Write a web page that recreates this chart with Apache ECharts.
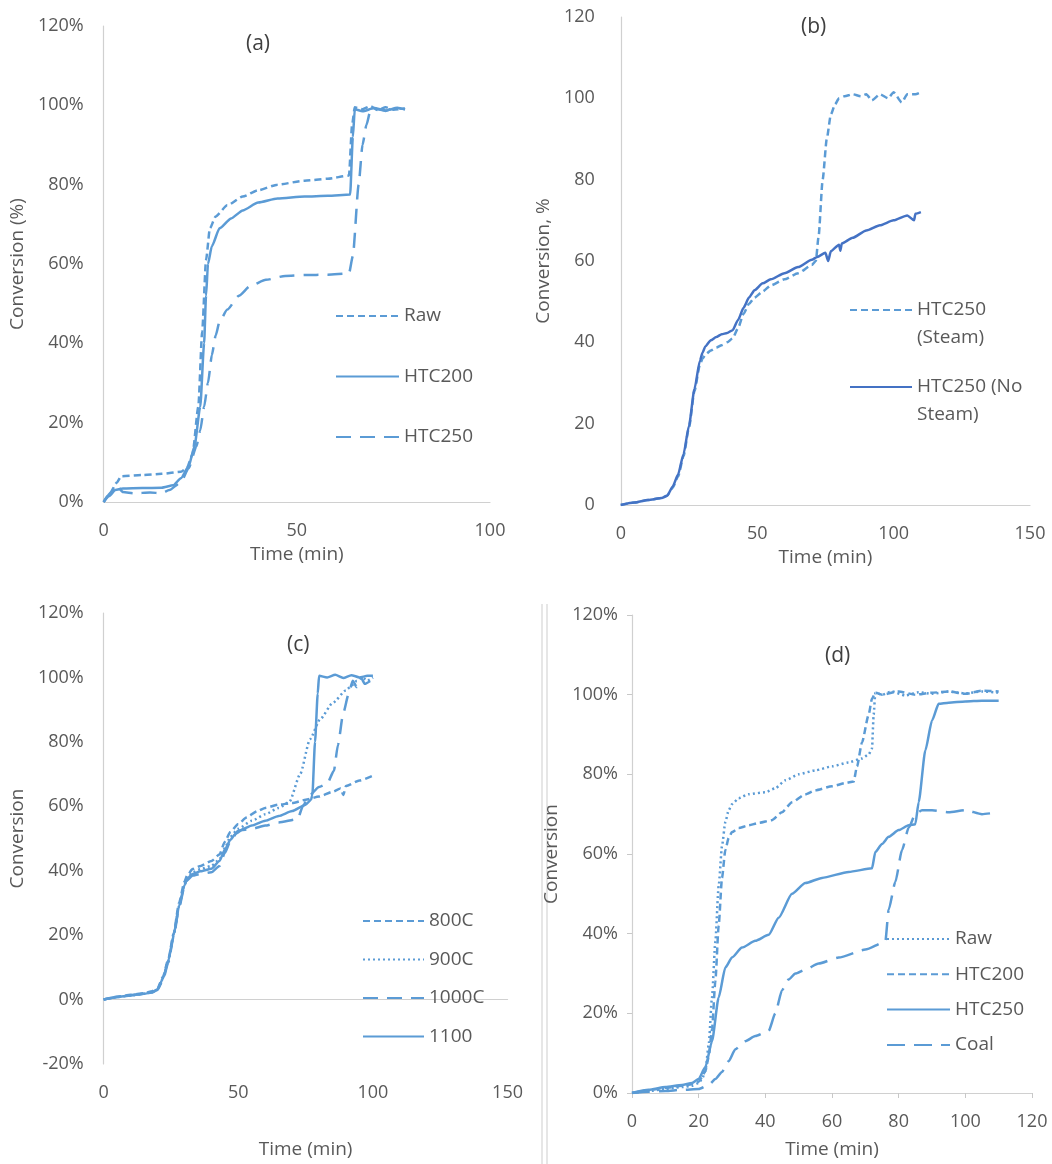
<!DOCTYPE html>
<html>
<head>
<meta charset="utf-8">
<script src="https://cdn.jsdelivr.net/npm/echarts@6/dist/echarts.min.js"></script>
<style>
  body { margin: 0; background: #fff; }
  .p { position: absolute; width: 526px; height: 582px; }
</style>
</head>
<body>
<div id="pa" class="p" style="left:0;top:0"></div>
<div id="pb" class="p" style="left:526px;top:0"></div>
<div id="pc" class="p" style="left:0;top:582px"></div>
<div id="pd" class="p" style="left:526px;top:582px"></div>
<script>
// ---- (a) conversion %, time in min
const aRawT = [0, 1.5, 3.5, 4.5, 10, 15, 20, 21.5, 23, 24.5, 25.5, 26.5, 27.5, 29, 32, 36, 40, 45, 52, 58, 63.5, 64.3, 65, 67, 69, 71, 73, 75, 78]
const aRawY = [0, 2, 5, 6.5, 6.8, 7.1, 7.6, 8.5, 12, 24, 43, 61, 69, 72, 74.8, 77, 78.6, 80, 81, 81.5, 82.3, 95, 99.5, 99, 99.8, 98.8, 99.5, 98.9, 99.2]
const aH200T = [0, 1.5, 3, 5, 10, 15, 18, 20, 22, 23.5, 25, 26, 26.5, 27, 28, 30, 33, 36, 40, 45, 52, 58, 63.8, 64.5, 65, 67, 70, 73, 76, 78]
const aH200Y = [0, 1.5, 3, 3.4, 3.5, 3.6, 4.2, 6, 9, 14, 24, 40, 52, 60, 64.5, 69, 71.5, 73.5, 75.5, 76.5, 77, 77.2, 77.5, 92, 99, 98.5, 99.3, 98.7, 99.4, 99]
const aH250T = [0, 2, 3.5, 5, 8, 12, 15, 17, 20, 22, 24, 25, 26, 27, 28, 29, 30, 32, 35, 38, 42, 47, 52, 58, 63.5, 64.5, 66, 67, 68, 69, 71, 73, 75, 78]
const aH250Y = [0, 2.5, 4, 2.5, 2.2, 2.4, 2.2, 3, 5, 8.5, 14, 18, 24, 30, 37, 42, 45.5, 48.5, 52, 54.5, 56, 57, 57.2, 57.3, 57.6, 62, 80, 90, 95, 98.5, 99, 98.6, 99.3, 99]

// ---- (b)
const bNoT = [0, 5, 10, 15, 17, 19, 21, 23, 25, 27, 29, 30, 31, 33, 35, 37, 39, 41, 43, 45, 47, 49, 52, 55, 60, 65, 70, 72, 75, 76, 77, 80, 80.5, 81, 85, 90, 95, 100, 105, 107.5, 108, 110]
const bNoY = [0, 0.6, 1.2, 1.7, 2.3, 4.5, 7.5, 12.5, 19.5, 28.5, 35.5, 37.5, 39, 40.5, 41.3, 42, 42.3, 43, 45.5, 48.5, 51, 52.8, 54.5, 55.5, 57, 58.5, 60.3, 61, 62, 60, 62.4, 64, 62.5, 64.3, 65.7, 67.5, 68.8, 70, 71.2, 70, 71.6, 72]
const bStT = [0, 5, 10, 15, 17, 19, 21, 23, 25, 27, 29, 30, 31, 33, 35, 37, 39, 41, 43, 45, 47, 49, 52, 55, 60, 65, 70, 71.5, 72.5, 74, 75.5, 77, 78.5, 80, 82, 85, 88, 90, 92, 95, 98, 100, 103, 105, 108, 110]
const bStY = [0, 0.6, 1.2, 1.7, 2.3, 4.2, 7, 12, 19, 28, 34.5, 36, 37, 38, 38.7, 39.3, 40, 41, 43.5, 47, 49.5, 51, 52.5, 54, 55.5, 57, 59, 60, 66, 80, 90, 96, 98.5, 100, 100.5, 101, 100.5, 101, 99.5, 101, 100, 101.5, 99, 101, 101, 101.5]

// ---- (c)
const c800T = [0, 5, 10, 15, 18, 20, 22, 24, 26, 28, 30, 31, 33, 36, 40, 43, 45, 47, 50, 53, 57, 60, 65, 70, 75, 80, 85, 88, 89, 90, 95, 100]
const c800Y = [0, 0.9, 1.5, 2, 2.6, 3.5, 7, 12.5, 20.5, 30, 36.5, 38.5, 40.5, 41.5, 43, 45, 49, 52, 54.5, 56.5, 58.5, 59.5, 60.5, 61, 62, 63, 64.5, 65.5, 63.5, 66.3, 68, 69.5]
const c900T = [0, 5, 10, 15, 18, 20, 22, 24, 26, 28, 30, 31, 33, 36, 40, 43, 45, 47, 50, 55, 60, 65, 69, 73, 76.6, 80.4, 85, 90, 92.3, 94, 96, 98, 100]
const c900Y = [0, 0.8, 1.3, 1.8, 2.3, 3.3, 6.5, 12, 20, 29, 35.5, 37.5, 39.5, 40.5, 41.5, 43.5, 47, 50.5, 53, 55.5, 57.5, 59.5, 61.4, 70, 80.8, 87, 92, 96, 97.6, 99, 100, 99, 100]
const c1000T = [0, 5, 10, 15, 18, 20, 22, 24, 26, 28, 30, 31, 33, 36, 40, 43, 45, 47, 50, 55, 60, 65, 72, 74, 76, 80, 83, 85.5, 87, 89, 91, 92.5, 94, 95.5, 97, 100]
const c1000Y = [0, 0.8, 1.3, 1.8, 2.2, 3, 6, 11.5, 19.5, 28.5, 35, 37, 38.5, 39, 39.5, 41.5, 45.5, 49, 52.5, 53, 54, 55, 56, 60, 63, 66, 67, 71, 79, 89, 95, 99, 97, 100, 98, 99.5]
const c1100T = [0, 5, 10, 15, 18, 20, 22, 24, 26, 28, 30, 31, 33, 36, 40, 43, 45, 47, 49, 52, 55, 60, 65, 70, 75, 77, 77.5, 78.5, 79.5, 80, 83, 86, 89, 92, 95, 98, 100]
const c1100Y = [0, 0.8, 1.3, 1.8, 2.2, 3.2, 6.5, 12, 20, 29, 35.5, 37.5, 39, 39.8, 40.6, 43, 46.5, 49.5, 51.5, 53, 54, 55.5, 57, 58.5, 60.5, 62, 63.5, 80, 95, 100.5, 100, 100.8, 99.8, 100.7, 100, 100.5, 100.5]

// ---- (d)
const dRawT = [0, 5, 10, 15, 18, 20, 21, 22, 23, 24, 25, 26, 27, 28, 29, 30, 32, 35, 40, 43, 46, 50, 55, 60, 65, 69, 71, 72, 72.5, 73, 75, 78, 82, 86, 90, 95, 100, 105, 110]
const dRawY = [0, 0.5, 1, 1.5, 1.8, 2.5, 3.5, 5.5, 12, 24, 38, 52, 62, 68, 71, 72.5, 74, 75, 75.5, 76.5, 78.5, 80, 81, 82, 83, 84, 85, 86.5, 95, 100.5, 100, 100.8, 99.8, 100.6, 100.2, 100.8, 100.3, 100.8, 100.5]
const dH200T = [0, 5, 10, 15, 18, 20, 21, 22, 23, 24, 25, 26, 27, 28, 29, 30, 32, 35, 38, 42, 45, 48, 52, 55, 60, 64, 66.5, 67.5, 69, 71, 72, 73, 75, 80, 85, 90, 95, 100, 105, 110]
const dH200Y = [0, 0.7, 1.3, 1.8, 2.2, 2.8, 4, 5.5, 9, 16, 28, 42, 54, 61, 64, 65.5, 66.5, 67.2, 67.8, 68.5, 70.5, 73, 75, 76, 77, 77.8, 78.2, 82, 88, 95, 99, 100.5, 100, 100.8, 100, 100.5, 100.8, 100.2, 101, 100.8]
const dH250T = [0, 5, 10, 15, 18, 20, 22, 24, 26, 28, 30, 33, 37, 41, 44, 48, 52, 57, 65, 72, 73, 75, 77, 80, 83, 85, 86, 88, 90, 92, 95, 100, 105, 110]
const dH250Y = [0, 0.8, 1.5, 2, 2.5, 3.5, 6.5, 13, 24, 31.5, 34, 36.5, 38.2, 39.7, 44, 50, 52.7, 54, 55.5, 56.4, 60.5, 62.5, 64.3, 66, 67.2, 67.5, 73, 86, 93.5, 97.7, 98, 98.3, 98.5, 98.5]
const dCoalT = [0, 5, 10, 15, 20, 23, 25, 27, 29, 31, 34, 37, 41, 43, 45, 47, 49, 52, 56, 62, 70, 76, 77, 79, 81, 83, 85, 87, 90, 95, 100, 105, 110]
const dCoalY = [0, 0.3, 0.5, 0.8, 1, 2, 3.5, 5.3, 8, 11, 13, 14.3, 15.6, 20, 25.8, 28.5, 30, 31, 32.5, 34, 36, 38, 46, 53, 61, 66.6, 70, 71, 71, 70.5, 71, 70, 70.5]

const BLUE = '#5B9BD5'
const DARK = '#4472C4'
const TXT = '#595959'
const FONT = 'Open Sans'

function line(name, t, y, dash, color) {
  return {
    name: name,
    type: 'line',
    data: t.map((x, i) => [x, y[i]]),
    symbol: 'none',
    smooth: 0.2,
    smoothMonotone: 'x',
    lineStyle: { color: color || BLUE, width: 2.5, type: dash },
    itemStyle: { color: color || BLUE }
  }
}

function axisX(max, interval, nameGap, ticks) {
  return {
    type: 'value', min: 0, max: max, interval: interval,
    name: 'Time (min)', nameLocation: 'middle', nameGap: nameGap,
    nameTextStyle: { color: TXT, fontSize: 19, fontFamily: FONT },
    axisLine: { lineStyle: { color: '#d0d0d0', width: 1.2 } },
    axisTick: { show: ticks, length: 5, lineStyle: { color: '#c8c8c8' } },
    axisLabel: { color: TXT, fontSize: 18, fontFamily: FONT, margin: 20 },
    splitLine: { show: false }
  }
}

function axisY(name, min, nameGap, pct, ticks, margin) {
  return {
    type: 'value', min: min, max: 120, interval: 20,
    name: name, nameLocation: 'middle', nameGap: nameGap,
    nameTextStyle: { color: TXT, fontSize: 19, fontFamily: FONT },
    axisLine: { show: true, lineStyle: { color: '#d0d0d0', width: 1.2 } },
    axisTick: { show: ticks, length: 5, lineStyle: { color: '#c8c8c8' } },
    axisLabel: { color: TXT, fontSize: 18, fontFamily: FONT, margin: margin, formatter: pct ? '{value}%' : '{value}' },
    splitLine: { show: false }
  }
}

// legend shows only the dashed line, the marker circle is hidden
function legend(left, top, gap, width, extra) {
  return Object.assign({
    orient: 'vertical', left: left, top: top, padding: 0,
    itemWidth: width, itemHeight: 24, itemGap: gap, selectedMode: false,
    itemStyle: { opacity: 0, color: 'rgba(0,0,0,0)', borderWidth: 0 },
    textStyle: { color: TXT, fontSize: 19, fontFamily: FONT, lineHeight: 24 }
  }, extra || {})
}

function title(text, left, top) {
  return { text: text, left: left, top: top, padding: 0,
    textStyle: { color: '#404040', fontSize: 21, fontWeight: 'normal', fontFamily: FONT } }
}

const base = { animation: false, backgroundColor: '#fff' }

echarts.init(document.getElementById('pa')).setOption(Object.assign({}, base, {
  title: title('(a)', 246, 34),
  grid: { left: 92, top: 26, width: 398, height: 476 },
  xAxis: axisX(100, 50, 37, false),
  yAxis: axisY('Conversion (%)', 0, 59, true, false, 20),
  legend: legend(335, 304, 36.5, 63),
  series: [
    line('Raw', aRawT, aRawY, [7, 4]),
    line('HTC200', aH200T, aH200Y, 'solid'),
    line('HTC250', aH250T, aH250Y, [15, 9])
  ]
}))

const bLabels = { 'HTC250 (Steam)': '\nHTC250\n(Steam)', 'HTC250 (No Steam)': '\nHTC250 (No\nSteam)' }
echarts.init(document.getElementById('pb')).setOption(Object.assign({}, base, {
  title: title('(b)', 275, 17),
  grid: { left: 78, top: 17, width: 426, height: 488 },
  xAxis: axisX(150, 50, 36, false),
  yAxis: axisY('Conversion, %', 0, 44, false, false, 26),
  legend: legend(323, 268, -7, 62, {
    formatter: n => bLabels[n],
    textStyle: { color: TXT, fontSize: 19, fontFamily: FONT, lineHeight: 28 }
  }),
  series: [
    line('HTC250 (Steam)', bStT, bStY, [7, 4]),
    line('HTC250 (No Steam)', bNoT, bNoY, 'solid', DARK)
  ]
}))

echarts.init(document.getElementById('pc')).setOption(Object.assign({}, base, {
  title: title('(c)', 287, 53),
  grid: { left: 83, top: 31, width: 430, height: 527 },
  xAxis: axisX(150, 50, 76, false),
  yAxis: axisY('Conversion', -20, 58, true, false, 20),
  legend: legend(362, 327, 14.5, 61),
  series: [
    line('800C', c800T, c800Y, [7, 4]),
    line('900C', c900T, c900Y, [2, 3]),
    line('1000C', c1000T, c1000Y, [15, 9]),
    line('1100', c1100T, c1100Y, 'solid')
  ]
}))

echarts.init(document.getElementById('pd')).setOption(Object.assign({}, base, {
  title: title('(d)', 299, 64),
  grid: { left: 106, top: 33, width: 400, height: 478 },
  xAxis: axisX(120, 20, 47, true),
  yAxis: axisY('Conversion', 0, 56, true, true, 14),
  legend: legend(360, 345, 11.3, 63),
  graphic: [
    { type: 'line', shape: { x1: 16, y1: 22, x2: 16, y2: 582 }, style: { stroke: '#d6d6d6', lineWidth: 1.2 } },
    { type: 'line', shape: { x1: 21, y1: 22, x2: 21, y2: 582 }, style: { stroke: '#d6d6d6', lineWidth: 1.2 } }
  ],
  series: [
    line('Raw', dRawT, dRawY, [2, 3]),
    line('HTC200', dH200T, dH200Y, [7, 4]),
    line('HTC250', dH250T, dH250Y, 'solid'),
    line('Coal', dCoalT, dCoalY, [18, 9])
  ]
}))
</script>
</body>
</html>
